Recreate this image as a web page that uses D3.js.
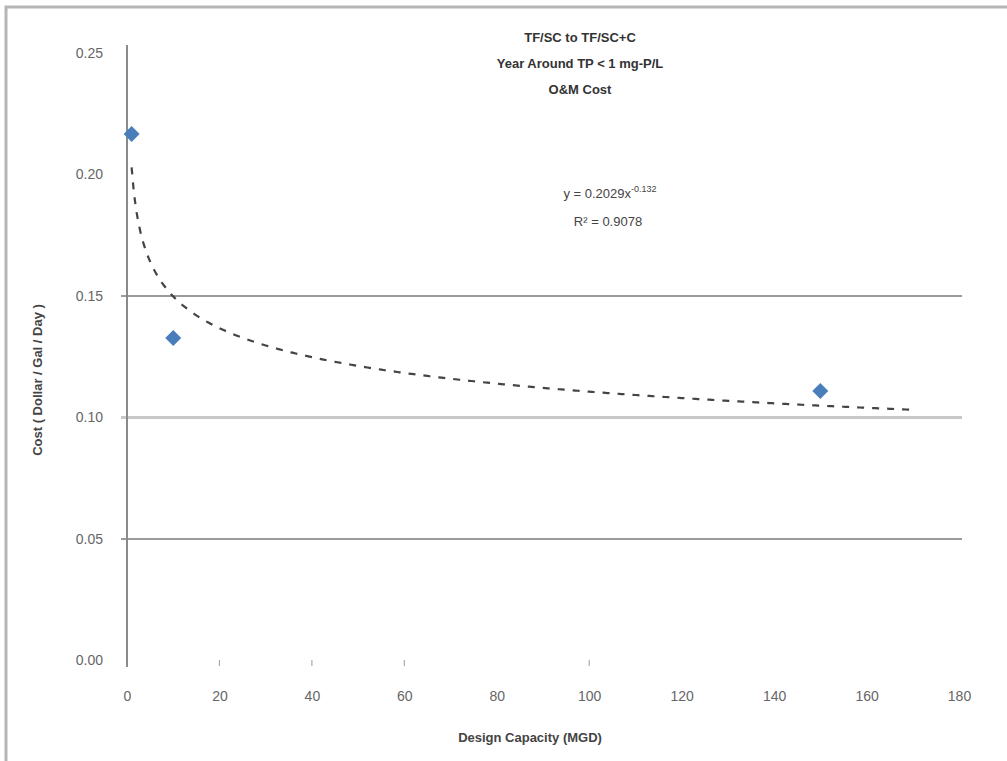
<!DOCTYPE html>
<html><head><meta charset="utf-8">
<script src="https://cdn.jsdelivr.net/npm/d3@7"></script>
<style>body{margin:0;background:#fff;} svg{display:block;}</style>
</head><body>
<svg id="c" width="1007" height="761"></svg>
<script>
const capacity = [1, 10, 150];
const cost = [0.2167, 0.1327, 0.1109];
const yTicks = [0, 0.05, 0.10, 0.15, 0.20, 0.25];
const xTicks = [0, 20, 40, 60, 80, 100, 120, 140, 160, 180];
const gridValues = [0.05, 0.10, 0.15];
const titleLines = ["TF/SC to TF/SC+C", "Year Around  TP < 1 mg-P/L", "O&M Cost"];
const trendRange = [1, 170];

const svg = d3.select("#c");
const x = d3.scaleLinear().domain([0, 180]).range([127, 959]);
const y = d3.scaleLinear().domain([0, 0.25]).range([660.5, 53]);
const font = "Liberation Sans, Arial, sans-serif";

// frame
svg.append("path").attr("d", "M6,1007 V7 H1007").attr("fill", "none").attr("stroke", "#b5b5b5").attr("stroke-width", 3);

// gridlines
svg.append("g").selectAll("line").data(gridValues).join("line")
  .attr("x1", x(0) - 6).attr("x2", 962)
  .attr("y1", d => y(d)).attr("y2", d => y(d))
  .attr("stroke", d => d === 0.10 ? "#c8c8c8" : "#7a7a7a")
  .attr("stroke-width", d => d === 0.10 ? 3 : 1.6);

// y axis
const yAxis = d3.axisLeft(y).tickValues(yTicks).tickFormat(d3.format(".2f")).tickSize(0).tickPadding(24);
const gy = svg.append("g").attr("transform", `translate(${x(0)},0)`).call(yAxis);
gy.select(".domain").remove();
gy.selectAll("text").attr("font-family", font).attr("font-size", 14).attr("fill", "#666");
svg.append("line").attr("x1", x(0)).attr("x2", x(0)).attr("y1", 45).attr("y2", 667)
  .attr("stroke", "#8a8a8a").attr("stroke-width", 2);

// x axis
const xAxis = d3.axisBottom(x).tickValues(xTicks).tickSize(0).tickPadding(31);
const gx = svg.append("g").attr("transform", `translate(0,${y(0)})`).call(xAxis);
gx.select(".domain").remove();
gx.selectAll("text").attr("font-family", font).attr("font-size", 14).attr("fill", "#666");
svg.append("g").selectAll("line").data([20, 40, 60, 100]).join("line")
  .attr("x1", d => x(d)).attr("x2", d => x(d)).attr("y1", 660).attr("y2", 666)
  .attr("stroke", "#aaa").attr("stroke-width", 1.2);

// axis titles
svg.append("text").attr("x", 530).attr("y", 742).attr("text-anchor", "middle")
  .attr("font-family", font).attr("font-size", 13).attr("font-weight", "bold").attr("fill", "#444")
  .text("Design Capacity (MGD)");
svg.append("text").attr("transform", "translate(42,380) rotate(-90)").attr("text-anchor", "middle")
  .attr("font-family", font).attr("font-size", 13).attr("font-weight", "bold").attr("fill", "#444")
  .text("Cost ( Dollar / Gal / Day )");

// title
svg.append("g").selectAll("text").data(titleLines).join("text")
  .attr("x", 580).attr("y", (d, i) => 42 + i * 26).attr("text-anchor", "middle")
  .attr("font-family", font).attr("font-size", 13).attr("font-weight", "bold").attr("fill", "#333")
  .text(d => d);

// power-law trendline fitted from the data (least squares in log space)
const lx = capacity.map(Math.log), ly = cost.map(Math.log);
const mx = d3.mean(lx), my = d3.mean(ly);
const sxy = d3.sum(lx, (v, i) => (v - mx) * (ly[i] - my));
const sxx = d3.sum(lx, v => (v - mx) ** 2);
const syy = d3.sum(ly, v => (v - my) ** 2);
const b = sxy / sxx, a = Math.exp(my - b * mx);
const r2 = sxy * sxy / (sxx * syy);
const xs = d3.range(trendRange[0], trendRange[1] + 0.01, 0.5);
svg.append("path").datum(xs)
  .attr("d", d3.line().x(d => x(d)).y(d => y(a * Math.pow(d, b))))
  .attr("fill", "none").attr("stroke", "#444").attr("stroke-width", 2.2)
  .attr("stroke-dasharray", "7,8");

// equation
svg.append("text").attr("x", 610).attr("y", 198).attr("text-anchor", "middle")
  .attr("font-family", font).attr("font-size", 13).attr("fill", "#444")
  .text("y = " + a.toFixed(4) + "x").append("tspan").attr("dy", -6).attr("font-size", 9)
  .text(b.toFixed(3));
svg.append("text").attr("x", 608).attr("y", 226).attr("text-anchor", "middle")
  .attr("font-family", font).attr("font-size", 13).attr("fill", "#444")
  .text("R² = " + r2.toFixed(4));

// points (Excel-style diamond markers)
svg.append("g").selectAll("path").data(capacity).join("path")
  .attr("transform", (d, i) => `translate(${x(d)},${y(cost[i])})`)
  .attr("d", "M0,-8 L8,0 L0,8 L-8,0 Z")
  .attr("fill", "#4a7ebb");
</script>
</body></html>
